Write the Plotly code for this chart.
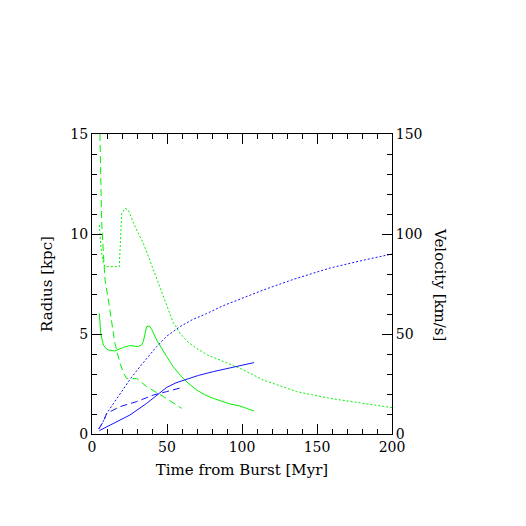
"""Radius and velocity after the burst, drawn on twin y axes."""

import plotly.graph_objects as go

# Green: radius [kpc], left axis
solid_r_t = [4.9, 5.8, 7.6, 9.0, 10.9, 15.3, 20.9, 25.3, 30.9, 33.0, 34.2, 35.5, 36.4,
             38.2, 39.8, 43.1, 46.5, 49.8, 54.0, 58.7, 64.0, 69.8, 75.0, 80.9, 92.0,
             98.7, 108.0]
solid_r = [6.03, 5.03, 4.45, 4.3, 4.2, 4.15, 4.33, 4.42, 4.37, 4.45, 4.62, 5.0, 5.37,
           5.4, 5.23, 4.7, 4.25, 3.87, 3.38, 2.95, 2.55, 2.2, 1.97, 1.78, 1.5,
           1.4, 1.15]

dash_r_t = [5.3, 6.4, 7.6, 8.2, 8.7, 10.9, 13.1, 15.3, 18.7, 21.0, 23.1, 25.3, 29.8,
            36.4, 47.6, 59.8]
dash_r = [15.0, 10.7, 9.0, 7.87, 7.7, 6.7, 5.53, 4.53, 3.53, 3.05, 2.78, 2.75, 2.78,
          2.37, 1.87, 1.28]

dot_r_t = [4.9, 6.0, 7.6, 8.7, 18.2, 19.8, 22.0, 24.2, 28.7, 34.2, 37.6, 43.1, 49.8,
           54.0, 58.7, 64.0, 69.8, 77.0, 85.3, 98.7, 114.2, 136.4, 158.7, 180.9, 200.0]
dot_r = [10.45, 9.3, 8.53, 8.37, 8.37, 11.03, 11.28, 11.2, 10.37, 9.53, 8.87, 7.78,
         6.37, 5.6, 5.03, 4.6, 4.28, 3.95, 3.7, 3.28, 2.7, 2.12, 1.78, 1.53, 1.32]

# Blue: velocity [km/s], right axis
solid_v_t = [4.9, 14.2, 25.3, 36.4, 43.1, 49.8, 56.0, 63.1, 71.0, 80.9, 90.0, 98.7,
             108.0]
solid_v = [1.7, 5.3, 9.5, 15.3, 19.5, 23.3, 25.6, 27.3, 29.3, 31.2, 32.8, 34.0, 35.7]

dash_v_t = [4.5, 7.6, 9.8, 18.7, 29.8, 40.9, 49.8, 59.8]
dash_v = [2.5, 6.2, 10.3, 13.7, 16.2, 19.5, 21.2, 23.2]

dot_v_t = [4.5, 7.6, 9.8, 15.0, 20.9, 26.0, 32.0, 43.1, 50.0, 58.7, 67.0, 76.4, 87.0,
           100.0, 114.2, 134.2, 150.0, 158.7, 180.9, 200.0]
dot_v = [2.5, 6.5, 10.3, 16.0, 22.0, 28.0, 33.7, 43.7, 49.0, 53.7, 57.2, 60.2, 64.0,
         68.0, 72.0, 77.3, 81.0, 83.0, 86.9, 90.0]

GREEN = "rgb(0, 245, 0)"
BLUE = "rgb(20, 20, 255)"
FONT = "DejaVu Serif"
DASHES = {"solid": "solid", "dash": "7px,4px", "dot": "2px,2px"}

fig = go.Figure()

for t, v, dash in [(solid_r_t, solid_r, "solid"), (dash_r_t, dash_r, "dash"),
                   (dot_r_t, dot_r, "dot")]:
    fig.add_trace(go.Scatter(x=t, y=v, mode="lines", showlegend=False,
                             line=dict(color=GREEN, width=1, dash=DASHES[dash])))

for t, v, dash in [(solid_v_t, solid_v, "solid"), (dash_v_t, dash_v, "dash"),
                   (dot_v_t, dot_v, "dot")]:
    fig.add_trace(go.Scatter(x=t, y=v, mode="lines", showlegend=False, yaxis="y2",
                             line=dict(color=BLUE, width=1, dash=DASHES[dash])))

tick_style = dict(ticks="inside", ticklen=10, tickcolor="black", tickwidth=1,
                  showline=True, linecolor="black", linewidth=1, showgrid=False,
                  zeroline=False, automargin=False,
                  tickfont=dict(family=FONT, size=14, color="black"))

# the page body adds 8px of offset, so the margins are trimmed to match
fig.update_layout(
    width=526, height=526,
    margin=dict(l=84, r=142, t=126, b=100),
    paper_bgcolor="white", plot_bgcolor="white",
    font=dict(family=FONT, size=14, color="black"),
    xaxis=dict(range=[0, 200], dtick=50, mirror="ticks",
               minor=dict(ticks="inside", ticklen=5, dtick=10, tickcolor="black"),
               title=dict(text="Time from Burst [Myr]", standoff=10,
                          font=dict(family=FONT, size=15)),
               **tick_style),
    yaxis=dict(range=[0, 15], dtick=5,
               minor=dict(ticks="inside", ticklen=5, dtick=1, tickcolor="black"),
               title=dict(text="Radius [kpc]", standoff=14,
                          font=dict(family=FONT, size=15)),
               **tick_style),
    yaxis2=dict(range=[0, 150], dtick=50, overlaying="y", side="right",
                minor=dict(ticks="inside", ticklen=5, dtick=10, tickcolor="black"),
                **tick_style),
)

fig.add_annotation(text="Velocity [km/s]", xref="paper", yref="paper", x=1.16, y=0.5,
                   xanchor="center", yanchor="middle", textangle=90, showarrow=False,
                   font=dict(family=FONT, size=15))

fig.write_html("out.html")
